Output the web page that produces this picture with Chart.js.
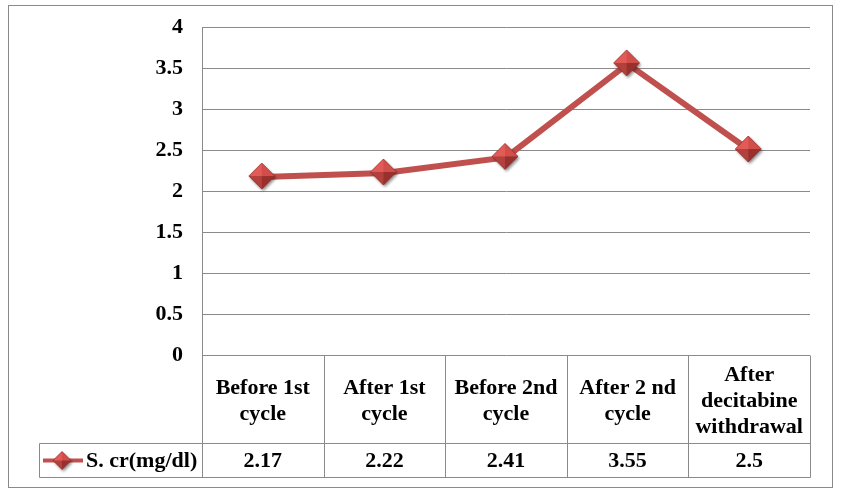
<!DOCTYPE html>
<html>
<head>
<meta charset="utf-8">
<script src="https://cdn.jsdelivr.net/npm/chart.js@4/dist/chart.umd.min.js"></script>
<style>
  html, body { margin: 0; padding: 0; background: #ffffff; }
  #wrap { width: 842px; height: 495px; }
  #probe { position: absolute; left: -1000px; top: -1000px; font: bold 22px "Liberation Serif"; }
</style>
</head>
<body>
<div id="probe">Before 1st 0.5</div>
<div id="wrap"><canvas id="c" width="842" height="495"></canvas></div>
<script>
// ---- data ----
const categories = [
  ["Before 1st", "cycle"],
  ["After 1st", "cycle"],
  ["Before 2nd", "cycle"],
  ["After 2 nd", "cycle"],
  ["After", "decitabine", "withdrawal"]
];
const seriesName = "S. cr(mg/dl)";
const seriesValues = [2.17, 2.22, 2.41, 3.55, 2.5];
const yTicks = [0, 0.5, 1, 1.5, 2, 2.5, 3, 3.5, 4];

// ---- styles ----
const FONT = "'Liberation Serif', 'Times New Roman', 'DejaVu Serif', serif";
const FSIZE = 22;
const LINE_COLOR = "#C0504D";
const GRID = "#8a8a8a";

function makeDiamond(half) {
  const pad = 4;
  const size = half * 2 + pad * 2;
  const cv = document.createElement('canvas');
  cv.width = size; cv.height = size;
  const g = cv.getContext('2d');
  const cx = size / 2 - 1, cy = size / 2 - 1;
  g.save();
  g.shadowColor = 'rgba(0,0,0,0.45)';
  g.shadowBlur = 3;
  g.shadowOffsetX = 1.5;
  g.shadowOffsetY = 2;
  g.beginPath();
  g.moveTo(cx, cy - half); g.lineTo(cx + half, cy); g.lineTo(cx, cy + half); g.lineTo(cx - half, cy); g.closePath();
  g.fillStyle = '#B5403C';
  g.fill();
  g.restore();
  const facets = [
    [[cx, cy - half], [cx - half, cy], [cx, cy], '#E25B57'],
    [[cx, cy - half], [cx + half, cy], [cx, cy], '#D24E4A'],
    [[cx - half, cy], [cx, cy + half], [cx, cy], '#B2403C'],
    [[cx + half, cy], [cx, cy + half], [cx, cy], '#9A302D']
  ];
  facets.forEach(f => {
    g.beginPath();
    g.moveTo(f[0][0], f[0][1]); g.lineTo(f[1][0], f[1][1]); g.lineTo(f[2][0], f[2][1]); g.closePath();
    g.fillStyle = f[3];
    g.fill();
  });
  g.beginPath();
  g.moveTo(cx, cy - half); g.lineTo(cx + half, cy); g.lineTo(cx, cy + half); g.lineTo(cx - half, cy); g.closePath();
  g.strokeStyle = 'rgba(140,40,38,0.8)';
  g.lineWidth = 0.8;
  g.stroke();
  return cv;
}

const framePlugin = {
  id: 'frame',
  beforeDraw(chart) {
    const ctx = chart.ctx;
    ctx.save();
    ctx.fillStyle = '#ffffff';
    ctx.fillRect(0, 0, chart.width, chart.height);
    ctx.strokeStyle = GRID;
    ctx.lineWidth = 1;
    ctx.strokeRect(8.5, 5.5, 824, 482);
    ctx.restore();
  }
};

function build() {
  const bigDiamond = makeDiamond(13);
  const smallDiamond = makeDiamond(9);

  const tablePlugin = {
    id: 'dataTable',
    afterDraw(chart) {
      const ctx = chart.ctx;
      const xs = chart.scales.x;
      const area = chart.chartArea;
      const n = categories.length;
      const colW = xs.getPixelForValue(1) - xs.getPixelForValue(0);
      const top = Math.round(area.bottom) + 0.5;
      const mid = top + 88;
      const bot = mid + 34;
      const legendLeft = 39.5;
      const right = Math.round(area.right) + 0.5;
      ctx.save();
      ctx.strokeStyle = GRID;
      ctx.lineWidth = 1;
      ctx.beginPath();
      ctx.moveTo(legendLeft, mid); ctx.lineTo(right, mid);
      ctx.moveTo(legendLeft, bot); ctx.lineTo(right, bot);
      ctx.moveTo(legendLeft, mid); ctx.lineTo(legendLeft, bot);
      for (let i = 0; i <= n; i++) {
        const x = Math.round(xs.getPixelForValue(0) - colW / 2 + i * colW) + 0.5;
        ctx.moveTo(x, top); ctx.lineTo(x, bot);
      }
      ctx.stroke();

      ctx.fillStyle = '#000000';
      ctx.font = 'bold ' + FSIZE + 'px ' + FONT;
      ctx.textAlign = 'center';
      ctx.textBaseline = 'middle';
      const lh = 26;
      for (let i = 0; i < n; i++) {
        const cx = xs.getPixelForValue(i);
        const lines = categories[i];
        const cy = (top + mid) / 2 + 2;
        lines.forEach((t, k) => {
          ctx.fillText(t, cx, cy + (k - (lines.length - 1) / 2) * lh);
        });
        ctx.fillText(String(seriesValues[i]), cx, (mid + bot) / 2 + 1);
      }
      const ly = (mid + bot) / 2;
      ctx.strokeStyle = LINE_COLOR;
      ctx.lineWidth = 4;
      ctx.beginPath();
      ctx.moveTo(43, ly); ctx.lineTo(83, ly);
      ctx.stroke();
      ctx.drawImage(smallDiamond, 62 - smallDiamond.width / 2 + 1, ly - smallDiamond.height / 2 + 1);
      ctx.textAlign = 'left';
      ctx.fillText(seriesName, 86, ly + 1);
      ctx.restore();
    }
  };

  new Chart(document.getElementById('c'), {
    type: 'line',
    data: {
      labels: categories,
      datasets: [{
        label: seriesName,
        data: seriesValues,
        borderColor: LINE_COLOR,
        backgroundColor: LINE_COLOR,
        borderWidth: 6,
        pointStyle: bigDiamond,
        pointRadius: 13,
        pointHoverRadius: 13,
        tension: 0,
        fill: false
      }]
    },
    options: {
      responsive: false,
      animation: false,
      devicePixelRatio: 1,
      events: [],
      layout: { padding: { top: 27, right: 32, bottom: 140, left: 0 } },
      plugins: { legend: { display: false }, tooltip: { enabled: false } },
      scales: {
        x: { display: false, offset: true },
        y: {
          min: 0, max: 4,
          afterFit(s) { s.width = 202; s.paddingTop = 0; s.paddingBottom = 0; },
          afterBuildTicks(s) { s.ticks = yTicks.map(v => ({ value: v })); },
          ticks: {
            padding: 19,
            color: '#000000',
            font: { family: FONT, size: FSIZE, weight: 'bold' },
            callback: v => String(v)
          },
          grid: { color: GRID, drawTicks: false, tickLength: 0, lineWidth: 1 },
          border: { display: true, color: GRID, width: 1 }
        }
      }
    },
    plugins: [framePlugin, tablePlugin]
  });
}

let built = false;
function go() { if (!built) { built = true; build(); } }
if (document.fonts && document.fonts.load) {
  document.fonts.load('bold 22px "Liberation Serif"').then(go, go);
  setTimeout(go, 1500);
} else {
  go();
}
</script>
</body>
</html>
